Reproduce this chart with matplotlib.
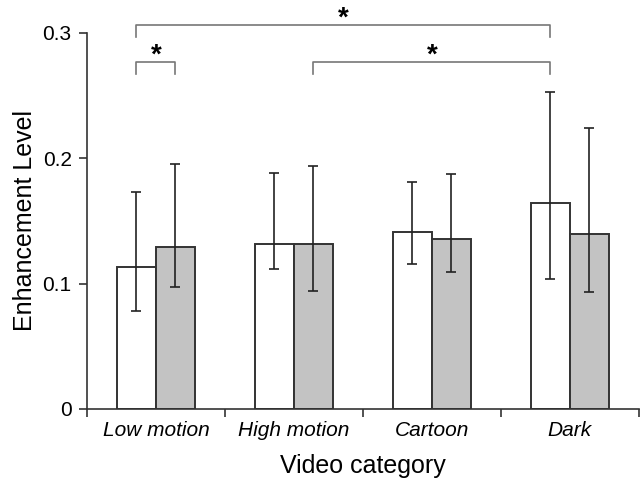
import matplotlib
matplotlib.use("Agg")
import matplotlib.pyplot as plt
import numpy as np

plt.rcParams['font.family'] = ['Liberation Sans', 'DejaVu Sans']

categories = ['Low motion', 'High motion', 'Cartoon', 'Dark']

# two conditions per category (white / gray bars)
white_mean = [0.1136, 0.1314, 0.1410, 0.1641]
white_hi = [0.1734, 0.1883, 0.1812, 0.2532]
white_lo = [0.0785, 0.1115, 0.1155, 0.1040]

gray_mean = [0.1293, 0.1314, 0.1357, 0.1397]
gray_hi = [0.1958, 0.1941, 0.1875, 0.2245]
gray_lo = [0.0976, 0.0942, 0.1091, 0.0931]

# significance brackets: (left bar, right bar, height), bar = (category, 0 white / 1 gray)
brackets = [((0, 0), (3, 0), 0.306), ((0, 0), (0, 1), 0.2766), ((1, 1), (3, 0), 0.2766)]

fig = plt.figure(figsize=(6.44, 4.78), dpi=100)
ax = fig.add_axes([0.135, 0.1444, 0.857, 0.7866])

x = np.arange(len(categories))
w = 0.283

def bar_x(b):
    return x[b[0]] + (w / 2 if b[1] else -w / 2)

wm = np.array(white_mean)
gm = np.array(gray_mean)
ax.bar(x - w / 2, wm, w, color='white', edgecolor='#333333', linewidth=1.4, zorder=2)
ax.bar(x + w / 2, gm, w, color='#c3c3c3', edgecolor='#333333', linewidth=1.4, zorder=2)

ax.errorbar(x - w / 2, wm, yerr=[wm - np.array(white_lo), np.array(white_hi) - wm],
            fmt='none', ecolor='#222222', elinewidth=1.2, capsize=3.5, capthick=1.2, zorder=3)
ax.errorbar(x + w / 2, gm, yerr=[gm - np.array(gray_lo), np.array(gray_hi) - gm],
            fmt='none', ecolor='#222222', elinewidth=1.2, capsize=3.5, capthick=1.2, zorder=3)

for left, right, h in brackets:
    x1, x2 = bar_x(left), bar_x(right)
    leg = 0.0095
    ax.plot([x1, x1, x2, x2], [h - leg, h, h, h - leg], color='#777777', lw=1.2,
            clip_on=False, zorder=4)
    ax.text((x1 + x2) / 2, h, '*', ha='center', va='baseline', fontsize=20,
            fontweight='bold', clip_on=False)

ax.set_xlim(-0.5, len(categories) - 0.5)
ax.set_ylim(0, 0.3)
ax.set_yticks([0, 0.1, 0.2, 0.3])
ax.set_yticklabels(['0', '0.1', '0.2', '0.3'], fontsize=15)

ax.set_xticks(np.arange(-0.5, len(categories)))
ax.set_xticklabels([])
ax.set_xticks(x, minor=True)
ax.set_xticklabels(categories, minor=True, fontsize=15, style='italic')
ax.tick_params(axis='x', which='major', direction='out', length=6, width=1.2, color='#333333')
ax.tick_params(axis='x', which='minor', length=0, pad=9)
ax.tick_params(axis='y', direction='out', length=6, width=1.2, color='#333333', pad=5)

for s in ['top', 'right']:
    ax.spines[s].set_visible(False)
for s in ['left', 'bottom']:
    ax.spines[s].set_color('#333333')
    ax.spines[s].set_linewidth(1.2)

ax.set_xlabel('Video category', fontsize=18, labelpad=10)
ax.set_ylabel('Enhancement Level', fontsize=18, labelpad=4)

fig.savefig('out.png', dpi=100)
